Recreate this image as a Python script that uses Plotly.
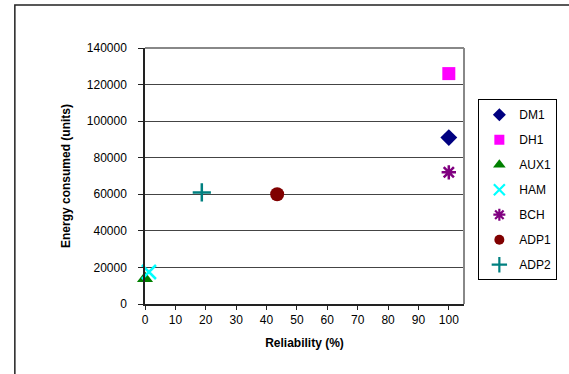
import plotly.graph_objects as go

# Data
series_names = ["DM1", "DH1", "AUX1", "HAM", "BCH", "ADP1", "ADP2"]
reliability = [100, 100, 0, 1.3, 100, 43.5, 18.7]
energy = [91000, 126000, 14000, 17500, 72000, 60000, 61000]

# Styles
colors = ["#000080", "#FF00FF", "#008000", "#00FFFF", "#800080", "#800000", "#008080"]
symbols = ["diamond", "square", "triangle-up", "x-thin-open", "asterisk-open", "circle", "cross-thin-open"]
sizes = [13, 13, 14, 14, 12, 14, 13]
legend_sizes = [10, 10, 11, 11, 10, 10, 11]

fig = go.Figure()
for i, name in enumerate(series_names):
    is_open = "open" in symbols[i]
    fig.add_trace(go.Scatter(
        x=[reliability[i]], y=[energy[i]], mode="markers", name=name,
        legendgroup=name, showlegend=False, cliponaxis=False,
        marker=dict(symbol=symbols[i], color=colors[i], size=sizes[i],
                    line=dict(color=colors[i], width=2.5 if is_open else 0)),
    ))
for i, name in enumerate(series_names):
    is_open = "open" in symbols[i]
    fig.add_trace(go.Scatter(
        x=[None], y=[None], mode="markers", name=name,
        legendgroup=name, showlegend=True,
        marker=dict(symbol=symbols[i], color=colors[i], size=legend_sizes[i],
                    line=dict(color=colors[i], width=2.2 if is_open else 0)),
    ))

font = "Liberation Sans, Arial, sans-serif"
fig.update_layout(
    width=569, height=374,
    margin=dict(l=145, r=98, t=48, b=70),
    paper_bgcolor="white", plot_bgcolor="white",
    font=dict(family=font, size=12, color="black"),
    showlegend=True,
    legend=dict(x=1.045, y=0.80, xanchor="left", yanchor="top",
                bordercolor="black", borderwidth=1, bgcolor="white",
                font=dict(size=12), tracegroupgap=6,
                itemwidth=30),
    xaxis=dict(range=[0, 105], tick0=0, dtick=10, showgrid=False,
               showline=True, linecolor="#222", linewidth=1.5,
               ticks="outside", ticklen=4, tickcolor="#222",
               zeroline=False,
               title=dict(text="<b>Reliability (%)</b>", standoff=12,
                          font=dict(size=12))),
    yaxis=dict(range=[0, 140000], tick0=0, dtick=20000, showgrid=True,
               gridcolor="#444", gridwidth=1,
               showline=True, linecolor="#222", linewidth=1.5,
               ticks="outside", ticklen=5, tickcolor="#222",
               ticklabelstandoff=9,
               zeroline=False, tickformat="d",
               title=dict(text="<b>Energy consumed (units)</b>", standoff=14,
                          font=dict(size=12))),
    shapes=[
        dict(type="line", xref="paper", yref="paper", x0=0, x1=1, y0=1, y1=1,
             line=dict(color="#888", width=2)),
        dict(type="line", xref="paper", yref="paper", x0=1, x1=1, y0=0, y1=1,
             line=dict(color="#888", width=2)),
        dict(type="rect", xref="paper", yref="paper", x0=-0.408, x1=1.6, y0=-0.5, y1=1.168,
             line=dict(color="#222", width=1.5), layer="below"),
    ],
)

fig.write_html("out.html")
